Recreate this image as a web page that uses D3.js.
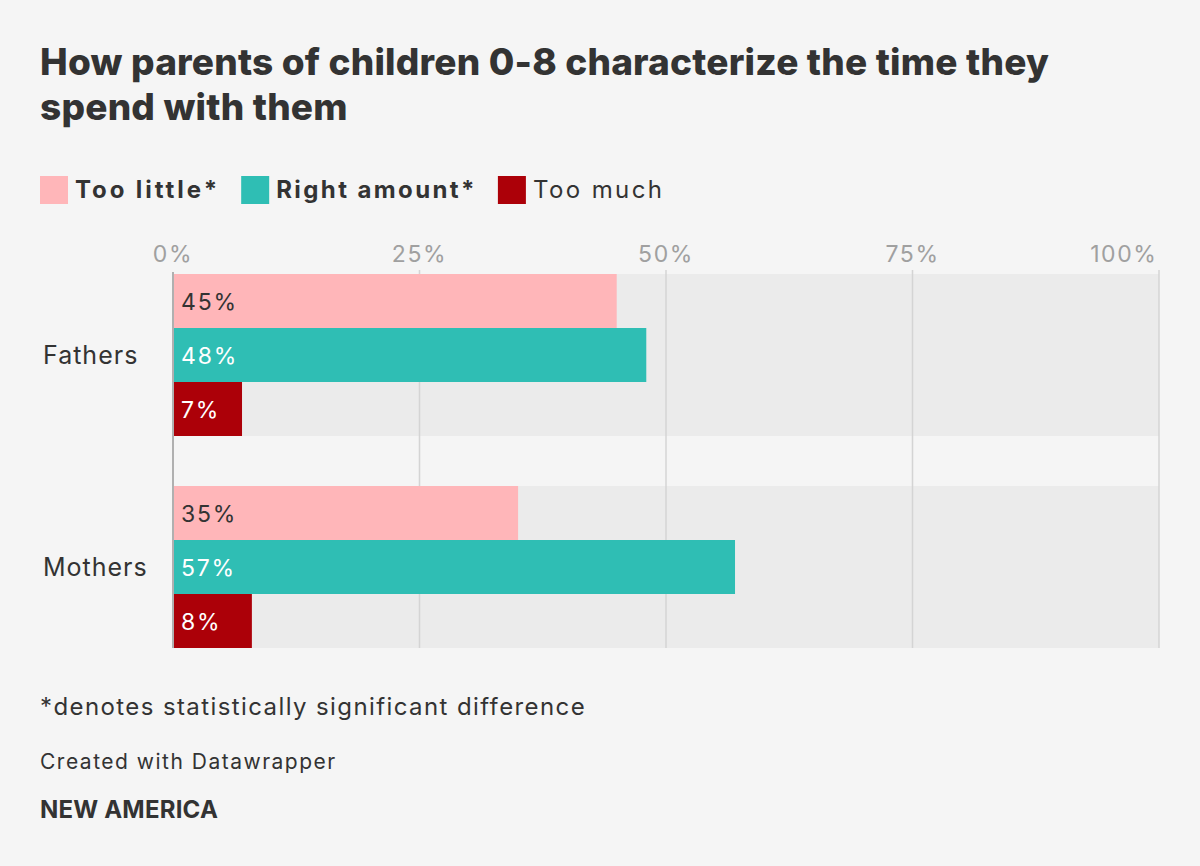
<!DOCTYPE html>
<html>
<head>
<meta charset="utf-8">
<script src="https://cdn.jsdelivr.net/npm/d3@7"></script>
<style>
  body { margin: 0; background: #f5f5f5; }
  svg text { font-family: "Inter", "Noto Sans", sans-serif; }
</style>
</head>
<body>
<div id="chart"></div>
<script>
const groups = ["Fathers", "Mothers"];
const seriesNames = ["Too little*", "Right amount*", "Too much"];
const seriesBold = [true, true, false];
const seriesColors = ["#ffb6b9", "#2fbeb4", "#ac0008"];
const labelColors = ["#333333", "#ffffff", "#ffffff"];
const tooLittle = [45, 35];
const rightAmount = [48, 57];
const tooMuch = [7, 8];
const ticks = [0, 25, 50, 75, 100];

const width = 1200, height = 866;
const svg = d3.select("#chart").append("svg")
  .attr("width", width).attr("height", height)
  .style("background", "#f5f5f5");

// title
svg.append("text").attr("x", 40).attr("y", 75)
  .attr("font-size", 37).attr("font-weight", 800).attr("fill", "#333")
  .attr("letter-spacing", 0.2)
  .text("How parents of children 0-8 characterize the time they");
svg.append("text").attr("x", 40).attr("y", 120)
  .attr("font-size", 37).attr("font-weight", 800).attr("fill", "#333")
  .attr("letter-spacing", 0.2)
  .text("spend with them");

// legend
const legend = svg.append("g");
let lx = 40;
seriesNames.forEach((name, i) => {
  legend.append("rect").attr("x", lx).attr("y", 176)
    .attr("width", 28).attr("height", 28).attr("fill", seriesColors[i]);
  const t = legend.append("text").attr("x", lx + 35).attr("y", 198)
    .attr("font-size", 24).attr("font-weight", seriesBold[i] ? 700 : 400)
    .attr("letter-spacing", i === 0 ? 2.9 : 2.4).attr("fill", "#333").text(name);
  lx += 35 + t.node().getComputedTextLength() + 21;
});

const x = d3.scaleLinear().domain([0, 100]).range([173, 1159]);
const y = d3.scaleBand().domain(groups).range([274, 648]).paddingInner(50 / 374 * 2 / (1 + 50 / 374));
const bar = d3.scaleBand().domain(d3.range(3)).range([0, y.bandwidth()]);

// group backgrounds
svg.append("g").selectAll("rect").data(groups).join("rect")
  .attr("x", x(0)).attr("width", x(100) - x(0))
  .attr("y", d => y(d)).attr("height", y.bandwidth())
  .attr("fill", "#ebebeb");

// grid
svg.append("g").selectAll("line").data(ticks.slice(1)).join("line")
  .attr("x1", d => x(d)).attr("x2", d => x(d))
  .attr("y1", 270).attr("y2", 648)
  .attr("stroke", "#d4d4d4").attr("stroke-width", 1.5);

// tick labels
svg.append("g").selectAll("text").data(ticks).join("text")
  .attr("x", d => x(d) + (d === 100 ? -1.5 : 0))
  .attr("y", 262)
  .attr("text-anchor", d => d === 100 ? "end" : "middle")
  .attr("font-size", 23).attr("fill", "#a0a0a0").attr("letter-spacing", 1.6)
  .text(d => d + "%");

const series = [tooLittle, rightAmount, tooMuch];
const rows = [];
groups.forEach((g, gi) => series.forEach((s, si) => rows.push({ g, si, v: s[gi] })));

svg.append("g").selectAll("rect").data(rows).join("rect")
  .attr("x", x(0)).attr("y", d => y(d.g) + bar(d.si))
  .attr("width", d => x(d.v) - x(0)).attr("height", bar.bandwidth())
  .attr("fill", d => seriesColors[d.si]);

svg.append("g").selectAll("text").data(rows).join("text")
  .attr("x", x(0) + 8).attr("y", d => y(d.g) + bar(d.si) + bar.bandwidth() / 2 + 8.5)
  .attr("font-size", 23).attr("fill", d => labelColors[d.si]).attr("letter-spacing", 1.8)
  .text(d => d.v + "%");

// zero axis line
svg.append("line").attr("x1", x(0)).attr("x2", x(0)).attr("y1", 272).attr("y2", 648)
  .attr("stroke", "#b0b0b0").attr("stroke-width", 2);

// category labels
svg.append("g").selectAll("text").data(groups).join("text")
  .attr("x", 43).attr("y", d => y(d) + y.bandwidth() / 2 + 9)
  .attr("font-size", 25).attr("fill", "#333").attr("letter-spacing", 1)
  .text(d => d);

// footer
svg.append("text").attr("x", 40).attr("y", 715)
  .attr("font-size", 24).attr("fill", "#333").attr("letter-spacing", 1.4)
  .text("*denotes statistically significant difference");
svg.append("text").attr("x", 40).attr("y", 769)
  .attr("font-size", 21).attr("fill", "#333").attr("letter-spacing", 1.5)
  .text("Created with Datawrapper");
svg.append("text").attr("x", 40).attr("y", 818)
  .attr("font-size", 24).attr("font-weight", 700).attr("fill", "#333").attr("letter-spacing", 0.2)
  .text("NEW AMERICA");
</script>
</body>
</html>
